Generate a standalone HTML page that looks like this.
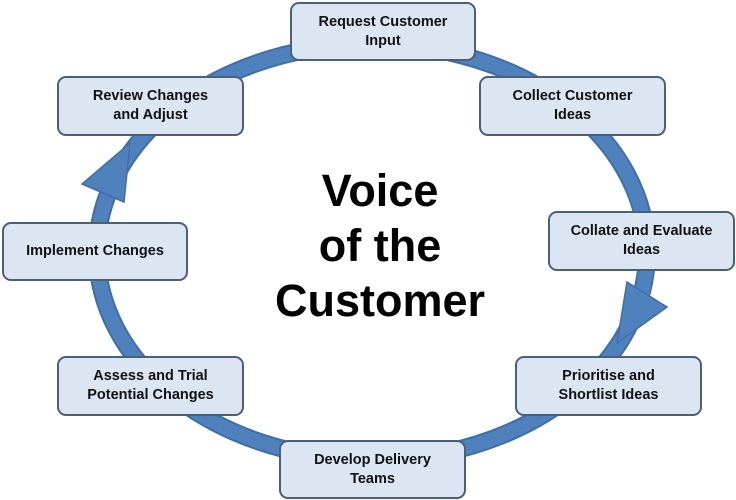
<!DOCTYPE html>
<html><head><style>
body{margin:0;width:736px;height:500px;background:#fff;overflow:hidden;position:relative;font-family:"Liberation Sans",Arial,sans-serif}
.b{position:absolute;box-sizing:border-box;background:#dce6f2;border:2px solid #4a5f78;border-radius:9px;display:flex;align-items:center;justify-content:center;text-align:center;font-weight:bold;font-size:14.5px;line-height:19px;color:#111}
.t{position:absolute;left:230px;width:300px;text-align:center;font-weight:bold;font-size:45px;line-height:55px;top:163px;color:#000}
</style></head><body>
<svg width="736" height="500" style="position:absolute;left:0;top:0">
<ellipse cx="372" cy="252" rx="275" ry="208" fill="none" stroke="#3f6fa8" stroke-width="18"/>
<ellipse cx="372" cy="252" rx="275" ry="208" fill="none" stroke="#4f81bd" stroke-width="14"/>
<polygon points="130,143 82,184 124,202" fill="#4f81bd" stroke="#3f6fa8" stroke-width="1.5"/>
<polygon points="627,282 667,307 617,343" fill="#4f81bd" stroke="#3f6fa8" stroke-width="1.5"/>
</svg>
<div class="b" style="left:290px;top:2px;width:186px;height:59px">Request Customer<br>Input</div>
<div class="b" style="left:57px;top:76px;width:187px;height:60px">Review Changes<br>and Adjust</div>
<div class="b" style="left:479px;top:76px;width:187px;height:60px">Collect Customer<br>Ideas</div>
<div class="b" style="left:548px;top:211px;width:187px;height:60px">Collate and Evaluate<br>Ideas</div>
<div class="b" style="left:2px;top:222px;width:186px;height:59px">Implement Changes</div>
<div class="b" style="left:515px;top:356px;width:187px;height:60px">Prioritise and<br>Shortlist Ideas</div>
<div class="b" style="left:57px;top:356px;width:187px;height:60px">Assess and Trial<br>Potential Changes</div>
<div class="b" style="left:279px;top:440px;width:187px;height:59px">Develop Delivery<br>Teams</div>
<div class="t">Voice<br>of the<br>Customer</div>
</body></html>
